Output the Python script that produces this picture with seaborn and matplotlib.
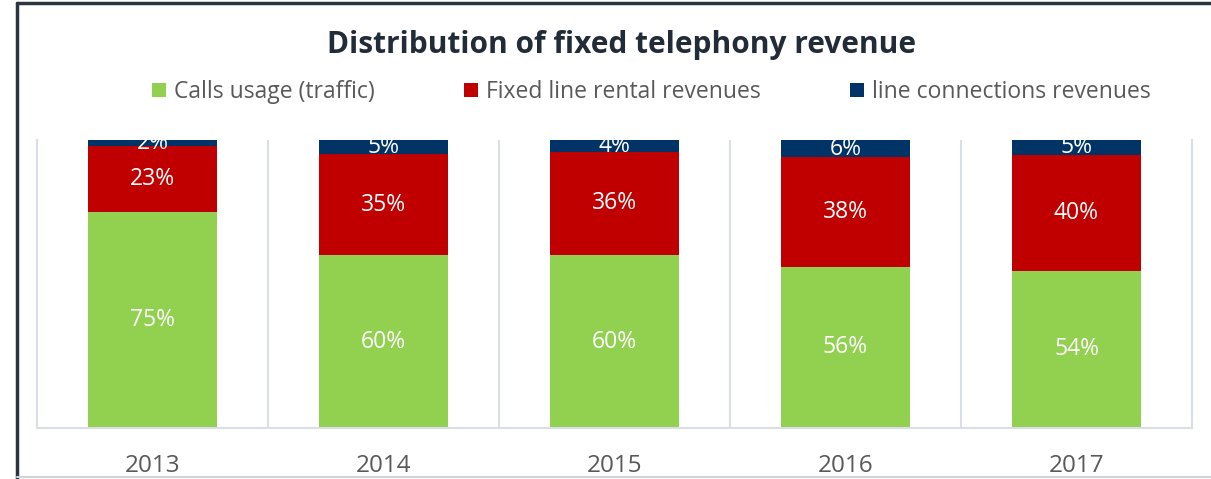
import matplotlib
matplotlib.use('Agg')
import matplotlib.pyplot as plt
import pandas as pd
import seaborn as sns
from matplotlib.lines import Line2D
from matplotlib.patches import Patch

years = ['2013', '2014', '2015', '2016', '2017']
calls = [75, 60, 60, 56, 54]
rental = [23, 35, 36, 38, 40]
connections = [2, 5, 4, 6, 5]

series = ['Calls usage (traffic)', 'Fixed line rental revenues', 'line connections revenues']
colors = ['#92D050', '#C00000', '#003366']

df = pd.DataFrame({'year': years, 'calls': calls, 'rental': rental, 'connections': connections})
# 100% stacked: normalise each year to its total
total = df['calls'] + df['rental'] + df['connections']
df['h1'] = df['calls'] / total * 100
df['h2'] = (df['calls'] + df['rental']) / total * 100
df['h3'] = 100.0

sns.set_style('white')
plt.rcParams['font.family'] = ['Open Sans', 'DejaVu Sans']

fig = plt.figure(figsize=(12.11, 4.79), dpi=100)
ax = fig.add_axes([37 / 1211, 1 - 428 / 479, (1192 - 37) / 1211, (428 - 140) / 479])

bar_kw = dict(width=0.56, saturation=1, linewidth=0, ax=ax)
sns.barplot(data=df, x='year', y='h3', color=colors[2], **bar_kw)
sns.barplot(data=df, x='year', y='h2', color=colors[1], **bar_kw)
sns.barplot(data=df, x='year', y='h1', color=colors[0], **bar_kw)

for i, row in df.iterrows():
    segs = [(0, row['h1'], row['calls']),
            (row['h1'], row['h2'], row['rental']),
            (row['h2'], row['h3'], row['connections'])]
    for lo, hi, val in segs:
        ax.text(i, (lo + hi) / 2, f'{val}%', ha='center', va='center', color='white',
                fontsize=16.5, clip_on=True)

ax.set_xlim(-0.5, 4.5)
ax.set_ylim(0, 100)
ax.set_yticks([])
ax.set_xlabel('')
ax.set_ylabel('')
grid_col = '#D9DEE7'
for x in [0.5, 1.5, 2.5, 3.5]:
    ax.axvline(x, color=grid_col, lw=1.5, zorder=0)
for s in ['left', 'right', 'bottom']:
    ax.spines[s].set_color(grid_col)
    ax.spines[s].set_linewidth(1.5)
ax.spines['top'].set_visible(False)
ax.tick_params(axis='x', length=0, pad=19, labelsize=17.5, labelcolor='#595959')

fig.text(0.513, 1 - 45 / 479, 'Distribution of fixed telephony revenue', ha='center', va='center',
         fontsize=21.5, fontweight='bold', color='#222B38')

handles = [Patch(facecolor=c, edgecolor='none') for c in colors]
fig.legend(handles, series, loc='center', bbox_to_anchor=(0.538, 1 - 92 / 479), ncol=3,
           frameon=False, fontsize=16.5, labelcolor='#595959', handlelength=0.6, handleheight=0.6,
           handletextpad=0.35, columnspacing=3.9)

# outer frame
fig.add_artist(Line2D([17 / 1211, 17 / 1211], [0, 1 - 3 / 479], transform=fig.transFigure, color='#2B3440', lw=2.5))
fig.add_artist(Line2D([17 / 1211, 1], [1 - 3 / 479, 1 - 3 / 479], transform=fig.transFigure, color='#2B3440', lw=2.5))
fig.add_artist(Line2D([17 / 1211, 1], [2 / 479, 2 / 479], transform=fig.transFigure, color='#D0D4DA', lw=1.5))

fig.savefig('out.png', dpi=100)
